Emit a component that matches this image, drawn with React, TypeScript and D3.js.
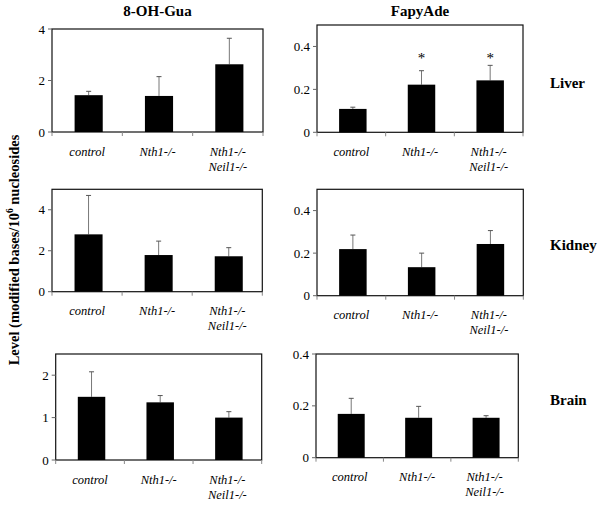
import React from "react";
import * as d3 from "d3";

const categories = ["control", "Nth1-/-", "Nth1-/-|Neil1-/-"];
const organs = ["Liver", "Kidney", "Brain"];
const lesions = ["8-OH-Gua", "FapyAde"];

// 8-OH-Gua means / error (upper) per organ
const guaLiver = [1.43, 1.4, 2.63];
const guaLiverErr = [0.15, 0.75, 1.01];
const guaKidney = [2.8, 1.79, 1.73];
const guaKidneyErr = [1.9, 0.68, 0.42];
const guaBrain = [1.49, 1.36, 1.0];
const guaBrainErr = [0.59, 0.16, 0.14];

// FapyAde means / error
const fapyLiver = [0.109, 0.222, 0.242];
const fapyLiverErr = [0.008, 0.065, 0.07];
const fapyKidney = [0.219, 0.134, 0.243];
const fapyKidneyErr = [0.066, 0.066, 0.063];
const fapyBrain = [0.169, 0.154, 0.154];
const fapyBrainErr = [0.06, 0.044, 0.008];

const guaMax = [4, 5, 2.5];
const fapyMax = [0.5, 0.5, 0.4];
const guaTicks = [[0, 2, 4], [0, 2, 4], [0, 1, 2]];
const fapyTicks = [[0, 0.2, 0.4], [0, 0.2, 0.4], [0, 0.2, 0.4]];
const fapyStars = [[false, true, true], [false, false, false], [false, false, false]];

const guaVals = [guaLiver, guaKidney, guaBrain];
const guaErrs = [guaLiverErr, guaKidneyErr, guaBrainErr];
const fapyVals = [fapyLiver, fapyKidney, fapyBrain];
const fapyErrs = [fapyLiverErr, fapyKidneyErr, fapyBrainErr];

// layout boxes [x0, x1, yTop, yBottom]
const boxes = [
  [[52, 263, 29, 132], [317, 523, 25, 132.3]],
  [[52, 262.3, 189.3, 291.7], [317, 523.3, 189.3, 295.7]],
  [[55.7, 261.7, 354, 460], [316, 518.3, 354, 457.7]],
];
const rowLabelY = [88, 250, 405];

const FONT = "Liberation Serif";

function Panel({ box, values, errs, ymax, ticks, stars }) {
  const [x0, x1, y0, y1] = box;
  const x = d3.scaleBand().domain(categories).range([x0, x1]).paddingInner(0.6).paddingOuter(0.3);
  const y = d3.scaleLinear().domain([0, ymax]).range([y1, y0]);
  const step = (x1 - x0) / categories.length;
  const fmt = (v) => (v === 0 ? "0" : ymax < 1 ? d3.format(".1f")(v) : d3.format("d")(v));
  return (
    <g>
      <rect x={x0} y={y0} width={x1 - x0} height={y1 - y0} fill="none" stroke="#111" strokeWidth={1.2} />
      {ticks.map((t) => (
        <g key={t}>
          <line x1={x0 - 4} x2={x0} y1={y(t)} y2={y(t)} stroke="#666" strokeWidth={1} />
          <text x={x0 - 7} y={y(t) + 4.5} textAnchor="end" style={{ fontFamily: FONT }} fontSize={13}>
            {fmt(t)}
          </text>
        </g>
      ))}
      {d3.range(categories.length + 1).map((i) => (
        <line key={i} x1={x0 + i * step} x2={x0 + i * step} y1={y1} y2={y1 + 4} stroke="#888" strokeWidth={1} />
      ))}
      {categories.map((c, i) => {
        const bx = x(c);
        const bw = x.bandwidth();
        const cx = bx + bw / 2 + 1.5;
        const top = y(values[i]);
        const et = y(values[i] + errs[i]);
        return (
          <g key={c}>
            <line x1={cx} x2={cx} y1={top} y2={et} stroke="#777" strokeWidth={1} />
            <line x1={cx - 2.5} x2={cx + 2.5} y1={et} y2={et} stroke="#555" strokeWidth={1} />
            <rect x={bx + 1.5} y={top} width={bw} height={y1 - top} fill="#000" />
            {stars && stars[i] && (
              <text x={cx} y={y0 + 38} textAnchor="middle" style={{ fontFamily: FONT }} fontSize={15}>
                *
              </text>
            )}
            {c.split("|").map((line, j) => (
              <text
                key={j}
                x={x0 + (i + 0.5) * step}
                y={y1 + 23.5 + j * 15}
                textAnchor="middle"
                style={{ fontFamily: FONT, fontStyle: "italic" }}
                fontSize={12.5}
              >
                {line}
              </text>
            ))}
          </g>
        );
      })}
    </g>
  );
}

export default function App() {
  return (
    <svg width={601} height={506} style={{ position: "absolute", left: 0, top: 0, background: "#fff" }}>
      <rect x={0} y={0} width={601} height={506} fill="#fff" />
      {lesions.map((l, j) => {
        const b = boxes[0][j];
        return (
          <text key={l} x={(b[0] + b[1]) / 2} y={16} textAnchor="middle" style={{ fontFamily: FONT, fontWeight: "bold" }} fontSize={15}>
            {l}
          </text>
        );
      })}
      {organs.map((o, r) => (
        <g key={o}>
          <Panel box={boxes[r][0]} values={guaVals[r]} errs={guaErrs[r]} ymax={guaMax[r]} ticks={guaTicks[r]} stars={null} />
          <Panel box={boxes[r][1]} values={fapyVals[r]} errs={fapyErrs[r]} ymax={fapyMax[r]} ticks={fapyTicks[r]} stars={fapyStars[r]} />
          <text x={550} y={rowLabelY[r]} style={{ fontFamily: FONT, fontWeight: "bold" }} fontSize={15}>
            {o}
          </text>
        </g>
      ))}
      <text
        transform="translate(19,250) rotate(-90)"
        textAnchor="middle"
        style={{ fontFamily: FONT, fontWeight: "bold" }}
        fontSize={14.5}
      >
        Level (modified bases/10
        <tspan fontSize={9.5} dy={-6}>6</tspan>
        <tspan dy={6}> nucleosides</tspan>
      </text>
    </svg>
  );
}
